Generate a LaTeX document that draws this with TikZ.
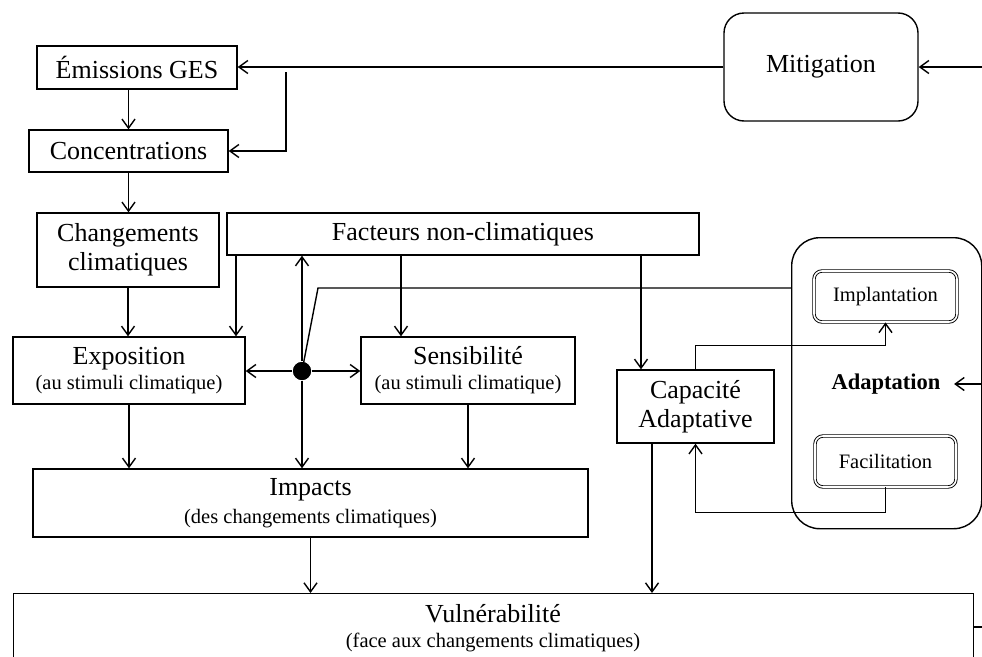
\documentclass[tikz,border=0pt]{standalone}
\usepackage{fontspec}
\setmainfont{Liberation Serif}
\usetikzlibrary{arrows.meta}
\newcommand\bigtxt{\fontsize{26}{30}\selectfont}
\newcommand\smalltxt{\fontsize{20.5}{24}\selectfont}
\begin{document}
\begin{tikzpicture}[x=1pt,y=-1pt,line width=1.4pt,
  box/.style={draw,rectangle,inner sep=0pt,align=center,font=\bigtxt},
  dbox/.style={draw,rectangle,rounded corners=8pt,double,double distance=1.6pt,line width=0.9pt,
               inner sep=0pt,font=\smalltxt},
  arr/.style={-{Straight Barb[length=9pt,width=13pt]}}]
\path[use as bounding box,clip] (0,0) rectangle (982,656);
\fill[white] (0,0) rectangle (982,656);

% left column
\node[box,minimum width=200,minimum height=43] (emis) at (137,67.5) {Émissions GES};
\node[box,minimum width=199,minimum height=42] (conc) at (128.5,151) {Concentrations};
\node[box,minimum width=182,minimum height=74] (chg) at (128,250) {Changements\\[-1pt]climatiques};
\node[box,minimum width=232,minimum height=67] (expo) at (129,370.5)
  {\raisebox{-3pt}{Exposition}\\[-5pt]{\smalltxt\raisebox{-3pt}{(au stimuli climatique)}}};
\node[box,minimum width=472,minimum height=42] (fact) at (463,234) {Facteurs non-climatiques};
\node[box,minimum width=214,minimum height=67] (sens) at (468,370.5)
  {\raisebox{-3pt}{Sensibilité}\\[-5pt]{\smalltxt\raisebox{-3pt}{(au stimuli climatique)}}};
\node[box,minimum width=157,minimum height=73] (cap) at (695.5,406.5) {Capacité\\[-1pt]Adaptative};
\node[box,minimum width=555,minimum height=68] (imp) at (310.5,503)
  {\raisebox{-3pt}{Impacts}\\[-2pt]{\smalltxt\raisebox{-3pt}{(des changements climatiques)}}};
\node[draw,rectangle,inner sep=0pt,minimum width=960,minimum height=110,anchor=north west] (vul) at (13,593) {};
\node[align=center,font=\bigtxt,inner sep=0pt] (vultxt) at (493,628)
  {Vulnérabilité\\[-5pt]{\smalltxt(face aux changements climatiques)}};

% right column
\node[box,rounded corners=20pt,minimum width=194,minimum height=108] (mit) at (821,67) {\raisebox{-3pt}{Mitigation}};
\node[draw,rectangle,rounded corners=28pt,inner sep=0pt,minimum width=190,minimum height=291,
      anchor=north west] (adapt) at (791,237) {};
\node[font={\fontsize{22.5}{26}\selectfont\bfseries},inner sep=13pt] (adtxt) at (886,384) {Adaptation};
\node[dbox,minimum width=143,minimum height=51] (impl) at (885.5,296.5) {Implantation};
\node[dbox,minimum width=141,minimum height=51] (facil) at (885.5,461.5) {Facilitation};

% hub
\node[circle,fill=black,inner sep=0pt,minimum size=18] (dot) at (302,371) {};

% helper coordinates
\coordinate (mitR) at (982,67);
\coordinate (br) at (286,72);
\coordinate (lane1) at (236,0);
\coordinate (lane2) at (401,0);
\coordinate (lane3) at (641,0);
\coordinate (lane4) at (652,0);
\coordinate (kink) at (318,288);
\coordinate (adR) at (982,384);
\coordinate (stub) at (982,627);

% mitigation branch
\draw[arr] (mitR) -- (mit.east);
\draw[arr] (mit.west) -- (mit.west -| emis.east);
\draw[arr] (br) |- (conc.east);

% main chain
\draw[arr] (conc.north |- emis.south) -- (conc.north);
\draw[arr] (conc.south) -- (conc.south |- chg.north);
\draw[arr] (chg.south) -- (chg.south |- expo.north);
\draw[arr] (lane1 |- fact.south) -- (lane1 |- expo.north);
\draw[arr] (lane2 |- fact.south) -- (lane2 |- sens.north);
\draw[arr] (lane3 |- fact.south) -- (lane3 |- cap.north);

% hub connections
\draw (adapt.west |- kink) -- (kink) -- (dot.center);
\draw[arr] (dot) -- (dot |- fact.south);
\draw[arr] (dot) -- (dot -| expo.east);
\draw[arr] (dot) -- (dot -| sens.west);
\draw[arr] (dot) -- (dot |- imp.north);

% impacts and vulnerability
\draw[arr] (expo.south) -- (expo.south |- imp.north);
\draw[arr] (sens.south) -- (sens.south |- imp.north);
\draw[arr] (imp.south) -- (imp.south |- vul.north);
\draw[arr] (lane4 |- cap.south) -- (lane4 |- vul.north);

% adaptation loop
\draw[arr] (cap.north) -- ++(0,-24) -| (impl.south);
\draw[arr] (facil.south) -- ++(0,25) -| (cap.south);
\draw[arr] (adR) -- (adtxt.east);
\draw (vul.east |- stub) -- (stub);

\node[circle,fill=black,inner sep=0pt,minimum size=18] at (dot) {};
\end{tikzpicture}
\end{document}
